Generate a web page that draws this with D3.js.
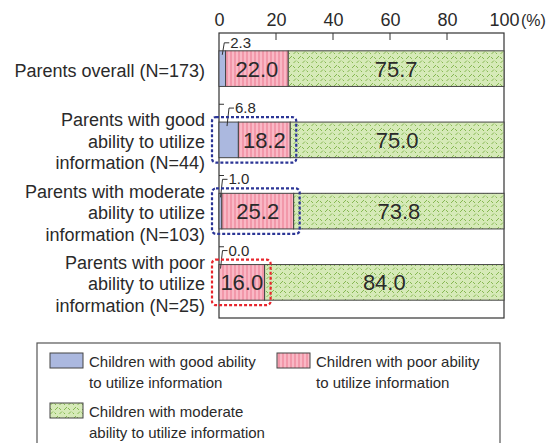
<!DOCTYPE html>
<html><head><meta charset="utf-8">
<script src="https://cdn.jsdelivr.net/npm/d3@7"></script>
<style>
body{margin:0;background:#fff;}
svg{font-family:"Liberation Sans",Arial,sans-serif;}
</style></head>
<body><svg id="c" width="552" height="443"></svg>
<script>
const categoryLines = [
  ["Parents overall (N=173)"],
  ["Parents with good", "ability to utilize", "information (N=44)"],
  ["Parents with moderate", "ability to utilize", "information (N=103)"],
  ["Parents with poor", "ability to utilize", "information (N=25)"]
];
const goodVals = [2.3, 6.8, 1.0, 0.0];
const poorVals = [22.0, 18.2, 25.2, 16.0];
const moderateVals = [75.7, 75.0, 73.8, 84.0];
const highlight = [null, "blue", "blue", "red"];
const xTicks = [0, 20, 40, 60, 80, 100];
const legendLines = [
  ["Children with good ability","to utilize information"],
  ["Children with poor ability","to utilize information"],
  ["Children with moderate","ability to utilize information"]
];

const svg = d3.select("#c");
const defs = svg.append("defs");
const pPink = defs.append("pattern").attr("id","pink").attr("patternUnits","userSpaceOnUse").attr("width",4).attr("height",4);
pPink.append("rect").attr("width",4).attr("height",4).attr("fill","#f9b8c5");
pPink.append("rect").attr("x",2.5).attr("width",1).attr("height",4).attr("fill","#ec7890");
const pGreen = defs.append("pattern").attr("id","green").attr("patternUnits","userSpaceOnUse").attr("width",9).attr("height",9);
pGreen.append("rect").attr("width",9).attr("height",9).attr("fill","#d6eab8");
pGreen.append("path").attr("d","M1,5 l3,-3 M5,3 l2,2 M5,9.5 l3,-3 M0.5,7.5 l2,2")
  .attr("stroke","#86b852").attr("stroke-width",1).attr("fill","none");

const x0 = 219, x1 = 504, y0 = 33, y1 = 318;
const x = d3.scaleLinear().domain([0,100]).range([x0,x1]);
const y = d3.scaleBand().domain(d3.range(categoryLines.length)).range([y0,y1]).paddingInner(0.5).paddingOuter(0.25);
const step = y.step();
const textCol = "#2a2a2a";

// frame
svg.append("rect").attr("x",x0).attr("y",y0).attr("width",x1-x0).attr("height",y1-y0)
  .attr("fill","none").attr("stroke","#333").attr("stroke-width",1.2);

// top axis
const ax = svg.append("g").attr("transform",`translate(0,${y0})`)
  .call(d3.axisTop(x).tickValues(xTicks).tickSize(0).tickPadding(7).tickFormat(d3.format("d")));
ax.select(".domain").remove();
ax.selectAll("text").attr("font-size",18).attr("fill",textCol).attr("font-family","Liberation Sans, Arial");
svg.append("g").selectAll("line").data(xTicks.filter(d=>d>0&&d<100)).join("line")
  .attr("x1",d=>x(d)).attr("x2",d=>x(d)).attr("y1",y0).attr("y2",y0+7).attr("stroke","#333");
svg.append("text").attr("x",x(100)+17).attr("y",y0-7).attr("font-size",16).attr("fill",textCol).text("(%)");

// left ticks at band boundaries
svg.append("g").selectAll("line").data(d3.range(1,categoryLines.length)).join("line")
  .attr("x1",x0).attr("x2",x0+5).attr("y1",d=>y0+d*step).attr("y2",d=>y0+d*step).attr("stroke","#333");

// bars
const fills = ["#abb8df","url(#pink)","url(#green)"];
const rows = goodVals.map((g,i)=>({i, segs:[g, poorVals[i], moderateVals[i]]}));
rows.forEach(r=>{
  let acc = 0;
  const g = svg.append("g");
  r.segs.forEach((v,k)=>{
    const xs = x(acc), xe = x(acc+v);
    if (v>0) g.append("rect").attr("x",xs).attr("y",y(r.i)).attr("width",xe-xs).attr("height",y.bandwidth())
      .attr("fill",fills[k]).attr("stroke","#444").attr("stroke-width",1);
    if (k>0) {
      g.append("text").attr("x",(xs+xe)/2).attr("y",y(r.i)+y.bandwidth()/2+8)
        .attr("text-anchor","middle").attr("font-size",22).attr("fill",textCol).text(v.toFixed(1));
    }
    acc += v;
  });
  const v = r.segs[0];
  const w = x(v)-x(0);
  const sx = x0 + Math.min(Math.max(w/2,1.5), 8);
  const top = y(r.i);
  const off = r.i===0 ? 9 : 15;
  g.append("path").attr("d",`M${sx},${top+4} L${sx+2},${top-off+1} L${sx+7},${top-off+1}`)
    .attr("fill","none").attr("stroke","#333").attr("stroke-width",1);
  g.append("text").attr("x",sx+8).attr("y",top-off+6).attr("font-size",15).attr("fill",textCol).text(v.toFixed(1));
  if (highlight[r.i]) {
    const end = x(r.segs[0]+r.segs[1]);
    g.append("rect").attr("x",x0-7).attr("y",top-5).attr("width",end+6-(x0-7)).attr("height",y.bandwidth()+10)
      .attr("rx",4).attr("fill","none").attr("stroke",highlight[r.i]==="blue"?"#2b3596":"#e8262e")
      .attr("stroke-width",2.2).attr("stroke-dasharray","3,2");
  }
});

// category labels
categoryLines.forEach((lines,i)=>{
  const cy = y(i)+y.bandwidth()/2 + 2;
  const lh = 21.5;
  const t = svg.append("text").attr("text-anchor","end").attr("font-size",18).attr("fill",textCol);
  lines.forEach((ln,j)=>{
    t.append("tspan").attr("x",205).attr("y",cy + (j-(lines.length-1)/2)*lh + 6).text(ln);
  });
});

// legend
svg.append("rect").attr("x",37).attr("y",343).attr("width",463).attr("height",120)
  .attr("fill","#fff").attr("stroke","#555").attr("stroke-width",1.2);
const legendPos = [{x:50,y:353},{x:277,y:353},{x:50,y:403}];
legendLines.forEach((lines,k)=>{
  const p = legendPos[k];
  svg.append("rect").attr("x",p.x).attr("y",p.y).attr("width",33).attr("height",15)
    .attr("fill",fills[k]).attr("stroke","#444").attr("stroke-width",1);
  const t = svg.append("text").attr("font-size",15).attr("fill",textCol);
  lines.forEach((ln,j)=>t.append("tspan").attr("x",p.x+39).attr("y",p.y+14+j*21).text(ln));
});
</script></body></html>
